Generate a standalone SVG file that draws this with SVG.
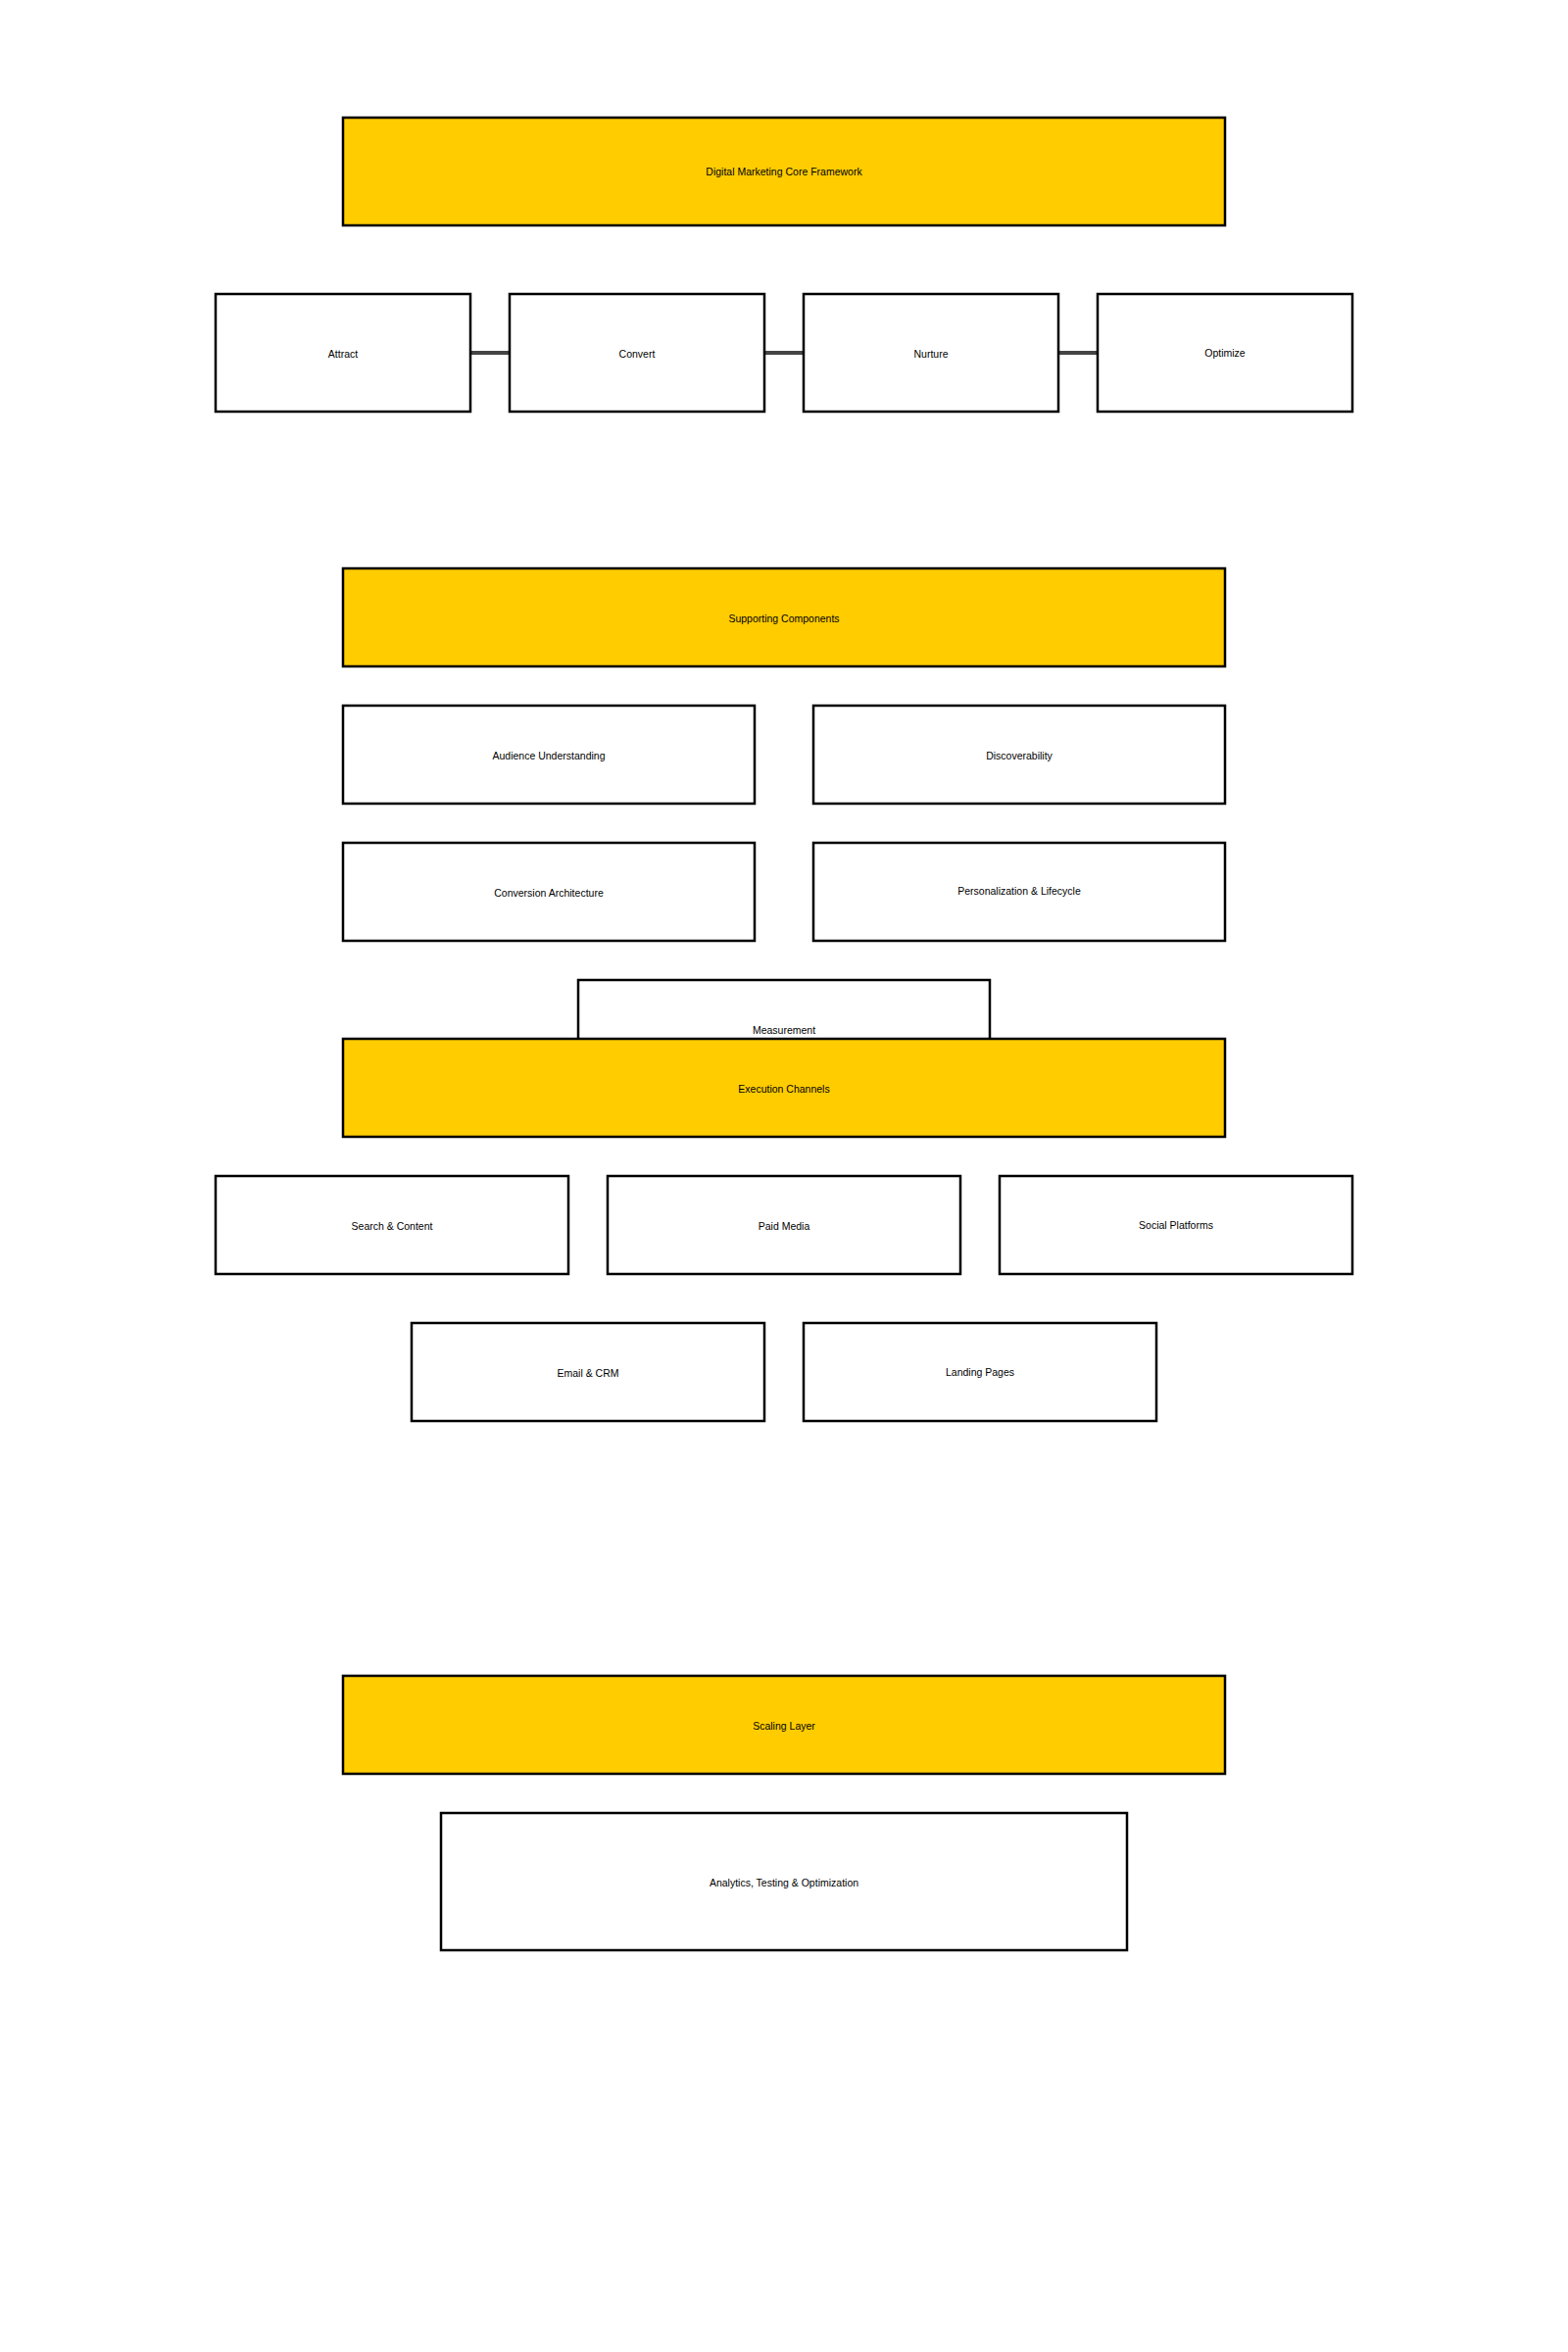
<svg xmlns="http://www.w3.org/2000/svg" width="1600" height="2400" viewBox="0 0 1600 2400">
<style>
  .hdr { fill: #FFCC00; stroke: #000; stroke-width: 2.5; }
  .box { fill: #FFFFFF; stroke: #000; stroke-width: 2.5; }
  .lbl { font-family: "Liberation Sans", Arial, sans-serif; font-size: 10.5px; fill: #000; text-anchor: middle; }
  .conn { stroke: #444; stroke-width: 4; fill: none; }
</style>
<rect width="1600" height="2400" fill="#FFFFFF"/>

<g id="connectors">
  <line class="conn" x1="481" y1="360" x2="519" y2="360"/>
  <line class="conn" x1="781" y1="360" x2="819" y2="360"/>
  <line class="conn" x1="1081" y1="360" x2="1119" y2="360"/>
</g>

<g id="core-framework">
  <rect class="hdr" x="350" y="120" width="900" height="110"/>
  <text class="lbl" x="800" y="179">Digital Marketing Core Framework</text>
</g>
<g id="attract">
  <rect class="box" x="220" y="300" width="260" height="120"/>
  <text class="lbl" x="350" y="365">Attract</text>
</g>
<g id="convert">
  <rect class="box" x="520" y="300" width="260" height="120"/>
  <text class="lbl" x="650" y="365">Convert</text>
</g>
<g id="nurture">
  <rect class="box" x="820" y="300" width="260" height="120"/>
  <text class="lbl" x="950" y="365">Nurture</text>
</g>
<g id="optimize">
  <rect class="box" x="1120" y="300" width="260" height="120"/>
  <text class="lbl" x="1250" y="364">Optimize</text>
</g>

<g id="supporting-components">
  <rect class="hdr" x="350" y="580" width="900" height="100"/>
  <text class="lbl" x="800" y="635">Supporting Components</text>
</g>
<g id="audience-understanding">
  <rect class="box" x="350" y="720" width="420" height="100"/>
  <text class="lbl" x="560" y="775">Audience Understanding</text>
</g>
<g id="discoverability">
  <rect class="box" x="830" y="720" width="420" height="100"/>
  <text class="lbl" x="1040" y="775">Discoverability</text>
</g>
<g id="conversion-architecture">
  <rect class="box" x="350" y="860" width="420" height="100"/>
  <text class="lbl" x="560" y="915">Conversion Architecture</text>
</g>
<g id="personalization-lifecycle">
  <rect class="box" x="830" y="860" width="420" height="100"/>
  <text class="lbl" x="1040" y="913">Personalization &amp; Lifecycle</text>
</g>
<g id="measurement">
  <rect class="box" x="590" y="1000" width="420" height="100"/>
  <text class="lbl" x="800" y="1055">Measurement</text>
</g>

<g id="execution-channels">
  <rect class="hdr" x="350" y="1060" width="900" height="100"/>
  <text class="lbl" x="800" y="1115">Execution Channels</text>
</g>
<g id="search-content">
  <rect class="box" x="220" y="1200" width="360" height="100"/>
  <text class="lbl" x="400" y="1255">Search &amp; Content</text>
</g>
<g id="paid-media">
  <rect class="box" x="620" y="1200" width="360" height="100"/>
  <text class="lbl" x="800" y="1255">Paid Media</text>
</g>
<g id="social-platforms">
  <rect class="box" x="1020" y="1200" width="360" height="100"/>
  <text class="lbl" x="1200" y="1254">Social Platforms</text>
</g>
<g id="email-crm">
  <rect class="box" x="420" y="1350" width="360" height="100"/>
  <text class="lbl" x="600" y="1405">Email &amp; CRM</text>
</g>
<g id="landing-pages">
  <rect class="box" x="820" y="1350" width="360" height="100"/>
  <text class="lbl" x="1000" y="1404">Landing Pages</text>
</g>

<g id="scaling-layer">
  <rect class="hdr" x="350" y="1710" width="900" height="100"/>
  <text class="lbl" x="800" y="1765">Scaling Layer</text>
</g>
<g id="analytics-testing-optimization">
  <rect class="box" x="450" y="1850" width="700" height="140"/>
  <text class="lbl" x="800" y="1925">Analytics, Testing &amp; Optimization</text>
</g>
</svg>
